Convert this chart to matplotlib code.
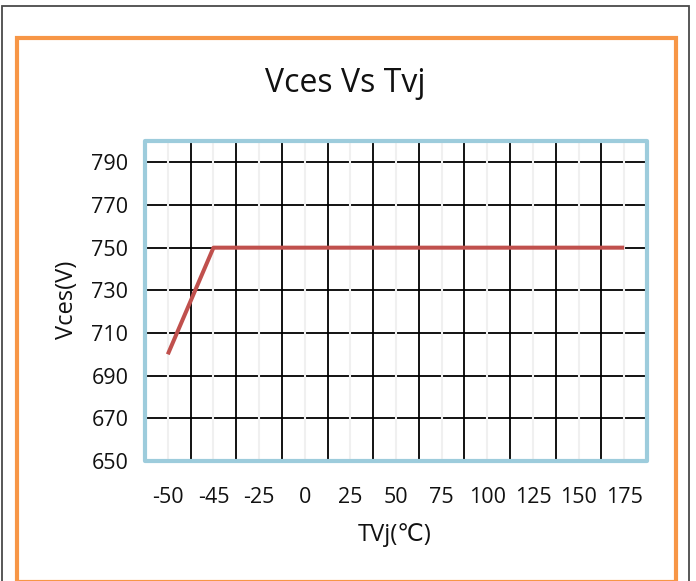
import matplotlib
matplotlib.use('Agg')
import matplotlib.pyplot as plt
from matplotlib.patches import Rectangle

categories = ['-50', '-45', '-25', '0', '25', '50', '75', '100', '125', '150', '175']
vces = [700, 750, 750, 750, 750, 750, 750, 750, 750, 750, 750]
y_ticks = [650, 670, 690, 710, 730, 750, 770, 790]
y_min, y_max = 650, 800

plt.rcParams['font.family'] = ['Open Sans', 'DejaVu Sans']

W, H = 696, 581
fig = plt.figure(figsize=(W / 100, H / 100), dpi=100)


def fx(px):
    return px / W


def fy(py):
    return 1 - py / H


# outer dark frame
fig.add_artist(Rectangle((fx(2), fy(640)), fx(689) - fx(2), fy(6) - fy(640),
                         fill=False, edgecolor='#4a4a4a', lw=1.3,
                         transform=fig.transFigure))
# orange chart frame
fig.add_artist(Rectangle((fx(17), fy(582)), fx(676) - fx(17), fy(38) - fy(582),
                         fill=False, edgecolor='#F79646', lw=3.0,
                         transform=fig.transFigure))

ax = fig.add_axes([fx(145), fy(461), fx(647) - fx(145), fy(141) - fy(461)])
x = list(range(len(categories)))
ax.set_xlim(-0.5, len(categories) - 0.5)
ax.set_ylim(y_min, y_max)

# horizontal black gridlines
for v in y_ticks[1:]:
    ax.axhline(v, color='black', lw=1.3, zorder=1)
# light gray lines at category centres
for xi in x:
    ax.axvline(xi, color='#f0f0f0', lw=1.5, zorder=2)
# black lines between categories
for xi in x[:-1]:
    ax.axvline(xi + 0.5, color='black', lw=1.3, zorder=3)

ax.plot(x, vces, color='#C0504D', lw=2.9, zorder=5, solid_capstyle='butt')

ax.set_xticks(x)
ax.set_xticklabels(categories)
ax.set_yticks(y_ticks)
ax.tick_params(axis='both', length=0, labelsize=15.5, labelcolor='#111111')
ax.tick_params(axis='x', pad=19)
ax.tick_params(axis='y', pad=12)
for s in ax.spines.values():
    s.set_visible(False)
ax.add_patch(Rectangle((0, 0), 1, 1, transform=ax.transAxes, fill=False,
                       edgecolor='#9DCCDC', lw=3.0, joinstyle='round',
                       clip_on=False, zorder=6))

fig.text(fx(345), fy(92), 'Vces Vs Tvj', ha='center', va='baseline', fontsize=23, color='#111111')
fig.text(fx(395), fy(541), 'TVj(℃)', ha='center', va='baseline', fontsize=17, color='#111111')
fig.text(fx(67), fy(300), 'Vces(V)', ha='center', va='center', rotation=90, fontsize=17, color='#111111')

fig.savefig('out.png', dpi=100)
